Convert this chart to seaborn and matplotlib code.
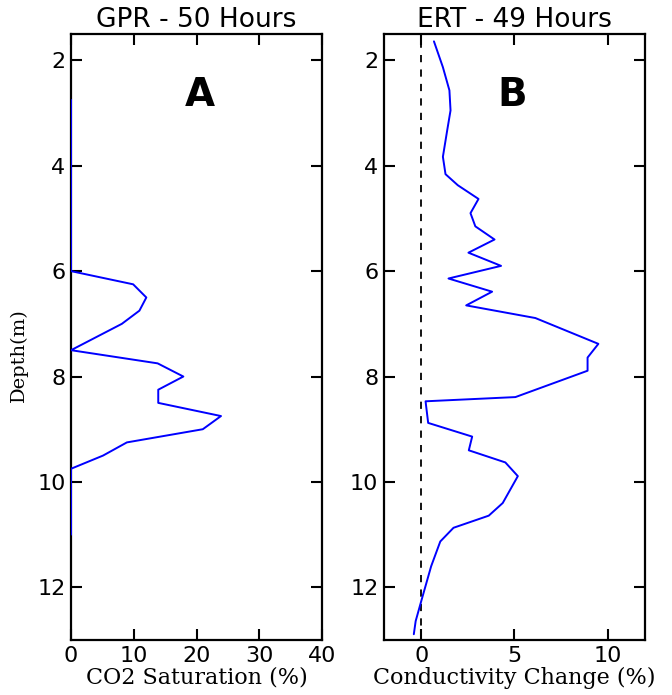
import numpy as np
import pandas as pd
import matplotlib
matplotlib.use("Agg")
import matplotlib.pyplot as plt
import seaborn as sns

# GPR panel: CO2 saturation (%) vs depth (m)
gpr_depth = [2.75, 6.0, 6.25, 6.5, 6.75, 7.0, 7.5, 7.75, 8.0, 8.25, 8.5,
             8.75, 9.0, 9.25, 9.5, 9.75, 11.0]
gpr_sat = [0, 0, 9.9, 12.0, 10.9, 8.1, 0, 13.8, 17.9, 13.9, 13.9,
           23.9, 21.0, 8.9, 5.1, 0, 0]

# ERT panel: conductivity change (%) vs depth (m)
ert_depth = [1.64, 2.13, 2.57, 2.95, 3.33, 3.83, 4.16, 4.37, 4.63, 4.9,
             5.15, 5.4, 5.65, 5.9, 6.14, 6.39, 6.65, 6.89, 7.38, 7.64,
             7.89, 8.39, 8.47, 8.88, 9.14, 9.4, 9.63, 9.89, 10.4, 10.64,
             10.87, 11.13, 11.6, 12.26, 12.64, 12.89]
ert_cond = [0.68, 1.16, 1.51, 1.57, 1.39, 1.16, 1.30, 1.96, 3.07, 2.64,
            2.9, 3.93, 2.53, 4.28, 1.46, 3.8, 2.41, 6.12, 9.5, 8.92,
            8.92, 5.05, 0.23, 0.37, 2.73, 2.55, 4.51, 5.18, 4.37, 3.62,
            1.73, 1.02, 0.53, 0.0, -0.3, -0.4]

gpr = pd.DataFrame({"depth": gpr_depth, "sat": gpr_sat})
ert = pd.DataFrame({"depth": ert_depth, "cond": ert_cond})

sns.set_style("ticks")
plt.rcParams["font.family"] = ["DejaVu Sans"]
plt.rcParams.update({"text.color": "black", "axes.labelcolor": "black",
                     "xtick.color": "black", "ytick.color": "black"})

fig = plt.figure(figsize=(6.72, 6.95), dpi=100)
ax1 = fig.add_axes([0.1057, 0.0791, 0.3735, 0.872])
ax2 = fig.add_axes([0.5714, 0.0791, 0.3884, 0.872])

sns.lineplot(data=gpr, x="sat", y="depth", orient="y", sort=False,
             estimator=None, color="blue", lw=1.4, ax=ax1, zorder=3)
sns.lineplot(data=ert, x="cond", y="depth", orient="y", sort=False,
             estimator=None, color="blue", lw=1.4, ax=ax2, zorder=3)
ax2.axvline(0, color="black", ls=(0, (4, 4)), lw=1.3)

ax1.set_xlim(0, 40)
ax1.set_xticks([0, 10, 20, 30, 40])
ax2.set_xlim(-2, 12)
ax2.set_xticks([0, 5, 10])

for ax in (ax1, ax2):
    ax.set_ylim(13, 1.5)
    ax.set_yticks([2, 4, 6, 8, 10, 12])
    ax.tick_params(direction="in", length=8, width=1.5, labelsize=16,
                   top=True, right=True, pad=4)
    for s in ax.spines.values():
        s.set_linewidth(1.6)
        s.set_color("black")
    ax.set_ylabel("")

ax1.set_title("GPR - 50 Hours", fontsize=19, pad=5)
ax2.set_title("ERT - 49 Hours", fontsize=19, pad=5)
ax1.set_xlabel("CO2 Saturation (%)", family="DejaVu Serif", fontsize=16, labelpad=1)
ax2.set_xlabel("Conductivity Change (%)", family="DejaVu Serif", fontsize=16, labelpad=1)
ax1.set_ylabel("Depth(m)", family="DejaVu Serif", fontsize=14)
ax1.yaxis.set_label_coords(-0.17, 0.47)

ax1.text(20.5, 2.66, "A", fontsize=28, fontweight="bold", ha="center", va="center")
ax2.text(4.9, 2.66, "B", fontsize=28, fontweight="bold", ha="center", va="center")

fig.savefig("out.png", dpi=100)
